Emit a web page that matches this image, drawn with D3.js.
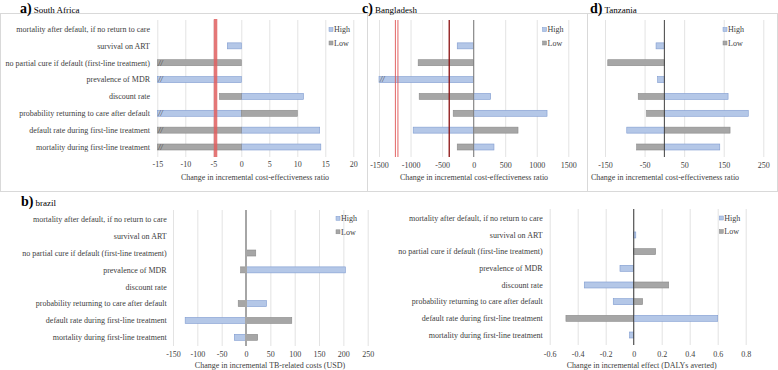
<!DOCTYPE html>
<html>
<head>
<meta charset="utf-8">
<script src="https://cdn.jsdelivr.net/npm/d3@7"></script>
<style>
  body { margin: 0; background: #fff; }
  text { font-family: "Liberation Serif", "DejaVu Serif", serif; fill: #404040; }
</style>
</head>
<body>
<svg id="chart" width="778" height="370" font-family="Liberation Serif"></svg>
<script>
// parameters, top row of each chart first
const categories = [
  "mortality after default, if no return to care",
  "survival on ART",
  "no partial cure if default (first-line treatment)",
  "prevalence of MDR",
  "discount rate",
  "probability returning to care after default",
  "default rate during first-line treatment",
  "mortality during first-line treatment"
];

// a) South Africa, ICER (values at -15 run off the axis and get a break mark)
const saHigh = [null, -2.5, null, -15, 11.1, -15, 14.0, 14.2];
const saLow  = [null, null, -15, null, -3.9, 10.0, -15, -15];
const saTicks = [-15, -10, -5, 0, 5, 10, 15, 20];
const saRef = [-4.6];

// c) Bangladesh, ICER
const bdHigh = [null, -260, null, -1500, 270, 1163, -958, 322];
const bdLow  = [null, null, -879, null, -863, -324, 703, -260];
const bdTicks = [-1500, -1000, -500, 0, 500, 1000, 1500];
const bdRefThin = [-1240, -1200];
const bdRefDark = [-387];

// d) Tanzania, ICER
const tzHigh = [null, -21, null, -17, 161, 212, -95, 140];
const tzLow  = [null, null, -143, null, -66, -45, 166, -70];
const tzTicks = [-150, -50, 50, 150, 250];

// b) brazil, TB-related costs
const brHigh = [null, null, null, 204, null, 42, -125, -24];
const brLow  = [null, null, 20, -11, null, -16, 94, 24];
const brTicks = [-150, -100, -50, 0, 50, 100, 150, 200, 250];

// b) brazil, DALYs averted
const dalyHigh = [null, 0.015, null, -0.098, -0.353, -0.146, 0.6, -0.03];
const dalyLow  = [null, null, 0.157, null, 0.25, 0.064, -0.484, null];
const dalyTicks = [-0.6, -0.4, -0.2, 0, 0.2, 0.4, 0.6, 0.8];

const HIGH_FILL = "#b4c7e7", HIGH_LINE = "#7f9bd0";
const LOW_FILL = "#a6a6a6", LOW_LINE = "#8a8a8a";

const svg = d3.select("#chart");

function drawPanel(p) {
  const x = d3.scaleLinear().domain(p.domain).range(p.range);
  const y = d3.scalePoint().domain(categories).range(p.rows);
  const g = svg.append("g");
  const barH = 6;

  if (p.frame) {
    g.append("rect")
      .attr("x", p.frame[0] + 0.5).attr("y", p.frame[1] + 0.5)
      .attr("width", p.frame[2] - p.frame[0]).attr("height", p.frame[3] - p.frame[1])
      .attr("fill", "none").attr("stroke", "#d9d9d9");
  }

  // gridlines
  g.append("g")
    .attr("transform", `translate(0,${p.grid[1]})`)
    .call(d3.axisBottom(x).tickValues(p.ticks).tickSize(-(p.grid[1] - p.grid[0])).tickFormat(""))
    .call(a => a.select(".domain").remove())
    .call(a => a.selectAll("line").attr("stroke", "#e3e3e3"));

  // bars: high and low share the same row
  const rows = categories.map((c, i) => ({ c, high: p.high[i], low: p.low[i] }));
  const bars = [];
  rows.forEach(r => {
    if (r.high != null) bars.push({ c: r.c, v: r.high, fill: HIGH_FILL, line: HIGH_LINE });
    if (r.low != null) bars.push({ c: r.c, v: r.low, fill: LOW_FILL, line: LOW_LINE });
  });

  g.append("g").selectAll("rect")
    .data(bars)
    .join("rect")
    .attr("x", d => Math.min(x(0), x(d.v)))
    .attr("y", d => y(d.c) - barH / 2)
    .attr("width", d => Math.abs(x(d.v) - x(0)))
    .attr("height", barH)
    .attr("fill", d => d.fill)
    .attr("stroke", d => d.line)
    .attr("stroke-width", 0.6);

  // axis break marks on bars that run past the left end
  g.append("g").selectAll("text")
    .data(bars.filter(d => d.v <= p.domain[0]))
    .join("text")
    .attr("x", d => x(d.v) + 1)
    .attr("y", d => y(d.c))
    .attr("dy", "0.35em")
    .attr("font-size", 8)
    .attr("font-style", "italic")
    .style("fill", "#444")
    .text("//");

  if (p.zero) {
    g.append("line")
      .attr("x1", x(0)).attr("x2", x(0))
      .attr("y1", p.grid[0]).attr("y2", p.grid[1])
      .attr("stroke", p.zero.color).attr("stroke-width", p.zero.width);
  }

  (p.refs || []).forEach(r => {
    g.append("g").selectAll("line")
      .data(r.values)
      .join("line")
      .attr("x1", d => x(d)).attr("x2", d => x(d))
      .attr("y1", r.y[0]).attr("y2", r.y[1])
      .attr("stroke", r.color).attr("stroke-width", r.width)
      .attr("opacity", r.opacity || 1);
  });

  // tick labels
  g.append("g")
    .attr("transform", `translate(0,${p.tickY})`)
    .call(d3.axisBottom(x).tickValues(p.ticks).tickSize(0).tickFormat(d => String(d)))
    .attr("font-family", null).attr("font-size", null)
    .call(a => a.select(".domain").remove())
    .call(a => a.selectAll("text").attr("y", 0).attr("dy", "0.35em").attr("font-size", 8).attr("fill", null));

  g.append("text")
    .attr("x", p.titleX).attr("y", p.titleY).attr("dy", "0.35em")
    .attr("text-anchor", "middle").attr("font-size", 8)
    .text(p.xTitle);

  if (p.labelX) {
    g.append("g").selectAll("text")
      .data(categories)
      .join("text")
      .attr("x", p.labelX)
      .attr("y", d => y(d))
      .attr("dy", "0.35em")
      .attr("text-anchor", "end")
      .attr("font-size", 8)
      .text(d => d);
  }

  // legend
  const leg = g.append("g").selectAll("g")
    .data([["High", HIGH_FILL, HIGH_LINE], ["Low", LOW_FILL, LOW_LINE]])
    .join("g")
    .attr("transform", (d, i) => `translate(${p.legend[0]},${p.legend[1] + i * 13.5})`);
  leg.append("rect").attr("x", 0).attr("y", -2).attr("width", 4).attr("height", 4)
    .attr("fill", d => d[1]).attr("stroke", d => d[2]).attr("stroke-width", 0.5);
  leg.append("text").attr("x", 5).attr("y", 0).attr("dy", "0.35em").attr("font-size", 8).text(d => d[0]);

  if (p.panel) {
    const t = g.append("text").attr("x", p.panel[0]).attr("y", p.panel[1]).attr("dy", "0.35em");
    t.append("tspan").attr("font-size", 14).attr("font-weight", "bold").style("fill", "#000").text(p.panel[2]);
    t.append("tspan").attr("font-size", 9).style("fill", "#000").attr("dx", 2).text(p.panel[3]);
  }
}

drawPanel({
  high: saHigh, low: saLow, domain: [-15, 20], range: [157.3, 353.3], ticks: saTicks,
  rows: [29, 147], grid: [20, 157], tickY: 164.5, titleX: 255, titleY: 177,
  xTitle: "Change in incremental  cost-effectiveness ratio",
  labelX: 150, legend: [329, 29.5], frame: [0, 13, 367, 191],
  zero: null,
  refs: [{ values: saRef, y: [19, 157], color: "#e06060", width: 3.5, opacity: 0.85 }],
  panel: [20, 7, "a)", "South Africa"]
});

drawPanel({
  high: bdHigh, low: bdLow, domain: [-1500, 1500], range: [379, 568.3], ticks: bdTicks,
  rows: [29, 147], grid: [20, 157], tickY: 165, titleX: 474, titleY: 177,
  xTitle: "Change in incremental cost-effectiveness ratio",
  labelX: null, legend: [542.5, 29.5], frame: [367, 13, 587, 191],
  zero: { color: "#808080", width: 1 },
  refs: [
    { values: bdRefThin, y: [20, 157], color: "#e05555", width: 0.9 },
    { values: bdRefDark, y: [20, 157], color: "#8b1010", width: 1.3 }
  ],
  panel: [362, 7, "c)", "Bangladesh"]
});

drawPanel({
  high: tzHigh, low: tzLow, domain: [-150, 250], range: [605, 763.3], ticks: tzTicks,
  rows: [29, 147], grid: [20, 157], tickY: 165, titleX: 665, titleY: 177,
  xTitle: "Change in incremental cost-effectiveness ratio",
  labelX: null, legend: [723, 29.5], frame: [587, 13, 777, 191],
  zero: { color: "#404040", width: 1 },
  panel: [590, 7, "d)", "Tanzania"]
});

drawPanel({
  high: brHigh, low: brLow, domain: [-150, 250], range: [173, 367.7], ticks: brTicks,
  rows: [219.3, 337.3], grid: [210, 346], tickY: 354, titleX: 270, titleY: 365,
  xTitle: "Change in incremental TB-related costs (USD)",
  labelX: 166.7, legend: [336, 218.3], frame: null,
  zero: { color: "#a6a6a6", width: 2 },
  panel: [21, 200, "b)", "brazil"]
});

drawPanel({
  high: dalyHigh, low: dalyLow, domain: [-0.6, 0.8], range: [549.7, 745.7], ticks: dalyTicks,
  rows: [218.3, 335], grid: [209, 345], tickY: 354.5, titleX: 641.7, titleY: 365,
  xTitle: "Change in incremental effect (DALYs averted)",
  labelX: 542.7, legend: [719.3, 218], frame: null,
  zero: { color: "#404040", width: 1 },
  panel: null
});
</script>
</body>
</html>
